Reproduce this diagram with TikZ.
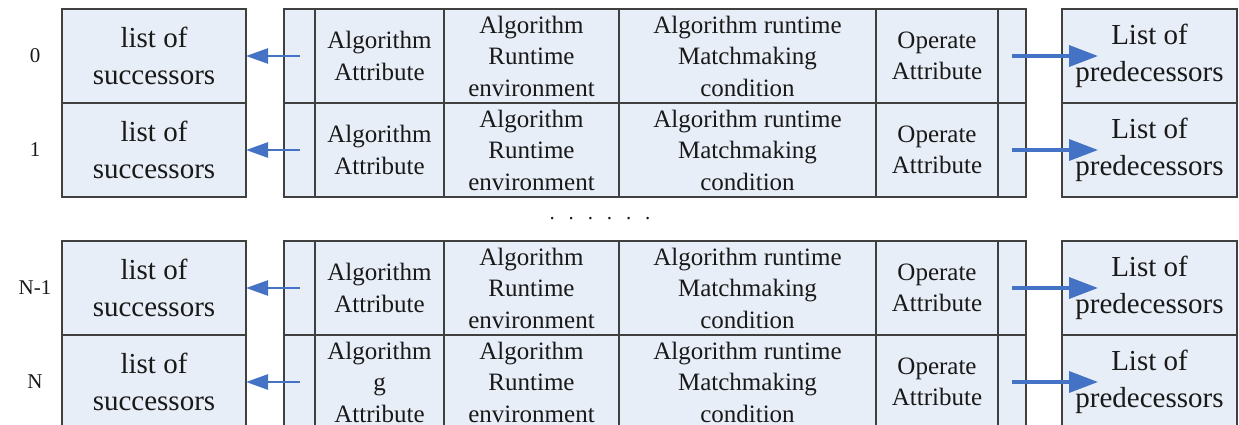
\documentclass[tikz,border=0pt]{standalone}
\usepackage{fontspec}
\setmainfont{Liberation Serif}
\usetikzlibrary{positioning,arrows.meta}

\definecolor{cellfill}{HTML}{E8EEF7}
\definecolor{cellline}{HTML}{404040}
\definecolor{arrowblue}{HTML}{4472C4}

\tikzstyle{cell} = [draw=cellline, line width=1.2pt, fill=cellfill, outer sep=0pt, inner sep=0pt, minimum height=94pt, align=center, text=black!90, font=\fontsize{25}{31.5}\selectfont]
\tikzstyle{listbox} = [cell, font=\fontsize{29}{37}\selectfont]
\tikzstyle{idx} = [text=black!90, font=\fontsize{21}{25}\selectfont]
\tikzstyle{back} = [arrowblue, line width=2.5pt, -{Triangle[length=22pt,width=15pt]}]
\tikzstyle{fwd} = [arrowblue, line width=3.5pt, -{Triangle[length=29pt,width=21pt]}]

\begin{document}
\begin{tikzpicture}[x=1pt, y=-1pt]
\useasboundingbox (0,0) rectangle (1239,425);
%begin row-0
\node[idx] (idx0) at (35,56) {0};
\node[listbox, minimum width=184pt] (succ0) at (154,56) {list of\\successors};
\node[cell, minimum width=31pt] (recL0) at (299.5,56) {};
\node[cell, minimum width=129pt, right=0pt of recL0] (alg0) {Algorithm\\Attribute};
\node[cell, minimum width=175pt, right=0pt of alg0] (env0) {Algorithm\\Runtime\\environment};
\node[cell, minimum width=257pt, right=0pt of env0] (match0) {Algorithm runtime\\Matchmaking\\condition};
\node[cell, minimum width=122pt, right=0pt of match0] (op0) {Operate\\Attribute};
\node[cell, minimum width=28pt, right=0pt of op0] (recR0) {};
\node[listbox, minimum width=175pt] (pred0) at (1149.5,56) {List of\\predecessors};
\draw[back] (recL0.center) -- (succ0.east);
\draw[fwd] (recR0.center) -- ([xshift=36pt]pred0.west);
%end row-0
%begin row-1
\node[listbox, minimum width=184pt, below=0pt of succ0] (succ1) {list of\\successors};
\node[idx] (idx1) at (35,150) {1};
\node[cell, minimum width=31pt, below=0pt of recL0] (recL1) {};
\node[cell, minimum width=129pt, right=0pt of recL1] (alg1) {Algorithm\\Attribute};
\node[cell, minimum width=175pt, right=0pt of alg1] (env1) {Algorithm\\Runtime\\environment};
\node[cell, minimum width=257pt, right=0pt of env1] (match1) {Algorithm runtime\\Matchmaking\\condition};
\node[cell, minimum width=122pt, right=0pt of match1] (op1) {Operate\\Attribute};
\node[cell, minimum width=28pt, right=0pt of op1] (recR1) {};
\node[listbox, minimum width=175pt, below=0pt of pred0] (pred1) {List of\\predecessors};
\draw[back] (recL1.center) -- (succ1.east);
\draw[fwd] (recR1.center) -- ([xshift=36pt]pred1.west);
%end row-1
%dots
\node[idx, anchor=base] (dots) at (600,219) {.\hskip13.9pt.\hskip13.9pt.\hskip13.9pt.\hskip13.9pt.\hskip13.9pt.};
%begin row-N-1
\node[idx] (idxM) at (35,288) {N-1};
\node[listbox, minimum width=184pt] (succM) at (154,288) {list of\\successors};
\node[cell, minimum width=31pt] (recLM) at (299.5,288) {};
\node[cell, minimum width=129pt, right=0pt of recLM] (algM) {Algorithm\\Attribute};
\node[cell, minimum width=175pt, right=0pt of algM] (envM) {Algorithm\\Runtime\\environment};
\node[cell, minimum width=257pt, right=0pt of envM] (matchM) {Algorithm runtime\\Matchmaking\\condition};
\node[cell, minimum width=122pt, right=0pt of matchM] (opM) {Operate\\Attribute};
\node[cell, minimum width=28pt, right=0pt of opM] (recRM) {};
\node[listbox, minimum width=175pt] (predM) at (1149.5,288) {List of\\predecessors};
\draw[back] (recLM.center) -- (succM.east);
\draw[fwd] (recRM.center) -- ([xshift=36pt]predM.west);
%end row-N-1
%begin row-N
\node[listbox, minimum width=184pt, below=0pt of succM] (succN) {list of\\successors};
\node[idx] (idxN) at (35,382) {N};
\node[cell, minimum width=31pt, below=0pt of recLM] (recLN) {};
\node[cell, minimum width=129pt, right=0pt of recLN] (algN) {Algorithm\\g\\Attribute};
\node[cell, minimum width=175pt, right=0pt of algN] (envN) {Algorithm\\Runtime\\environment};
\node[cell, minimum width=257pt, right=0pt of envN] (matchN) {Algorithm runtime\\Matchmaking\\condition};
\node[cell, minimum width=122pt, right=0pt of matchN] (opN) {Operate\\Attribute};
\node[cell, minimum width=28pt, right=0pt of opN] (recRN) {};
\node[listbox, minimum width=175pt, below=0pt of predM] (predN) {List of\\predecessors};
\draw[back] (recLN.center) -- (succN.east);
\draw[fwd] (recRN.center) -- ([xshift=36pt]predN.west);
%end row-N
\end{tikzpicture}
\end{document}
